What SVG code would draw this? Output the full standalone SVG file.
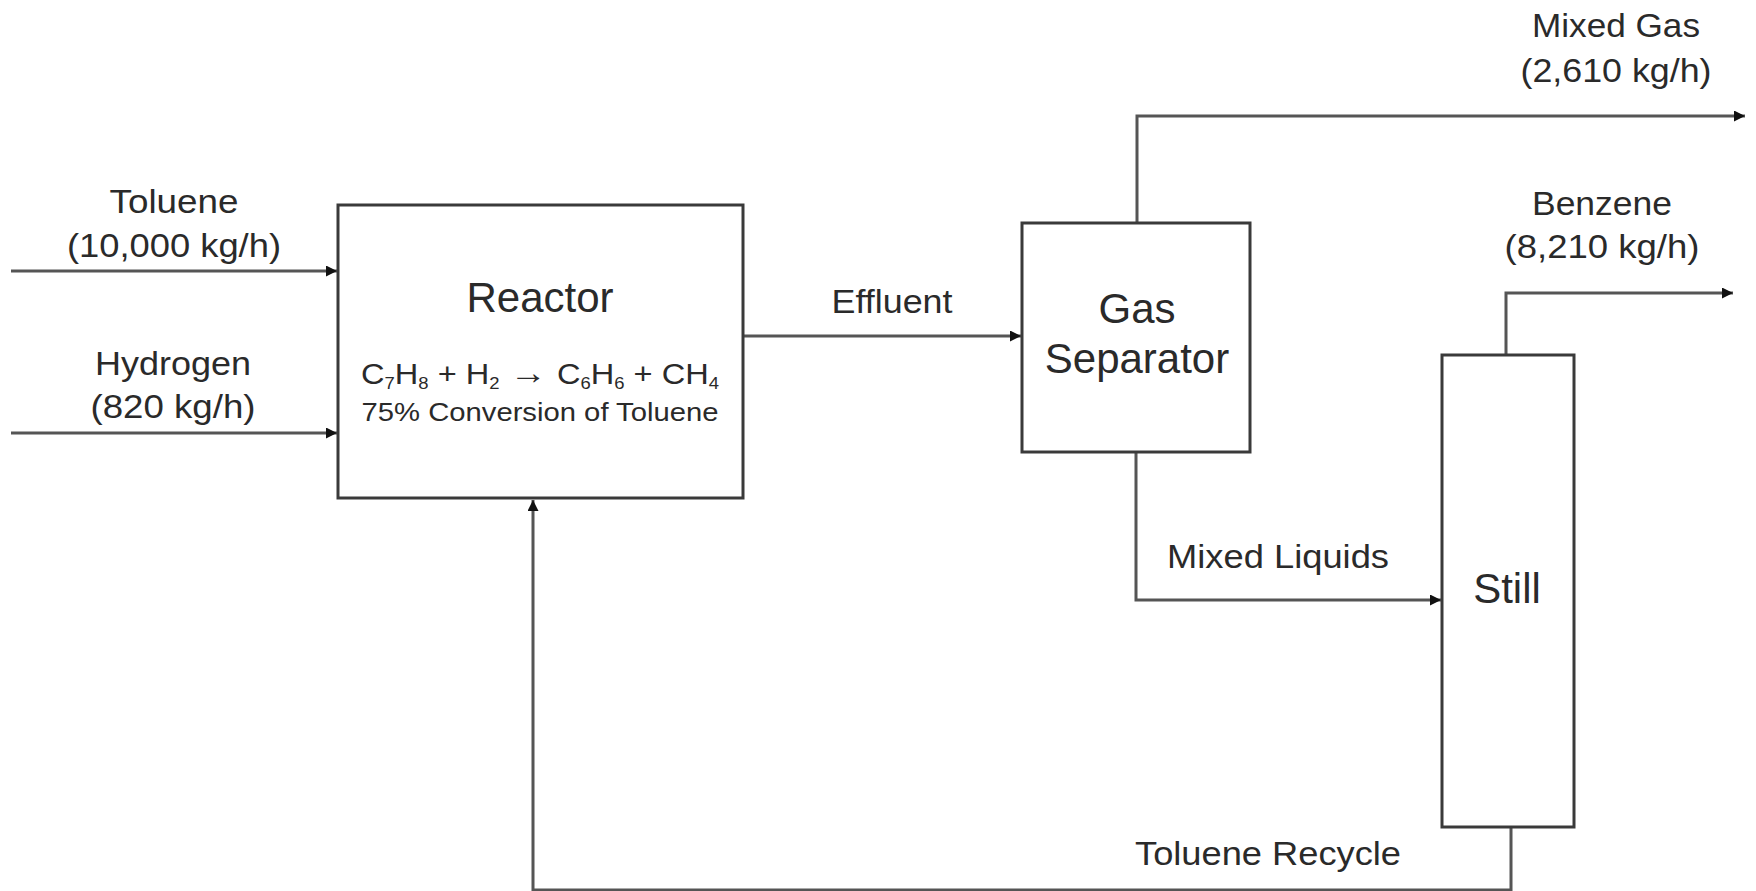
<svg xmlns="http://www.w3.org/2000/svg" width="1756" height="891" viewBox="0 0 1756 891">
<style>
.box{fill:#fff;stroke:#3a3a3a;stroke-width:3}
.ln{fill:none;stroke:#555;stroke-width:3}
.t{font-family:"Liberation Sans",Arial,sans-serif;fill:#2a2a2a;text-anchor:middle}
.s{font-size:34px}
.b{font-size:42px}
</style>
<defs>
<marker id="ah" markerUnits="userSpaceOnUse" markerWidth="13" markerHeight="13" refX="11" refY="5.5" orient="auto">
<path d="M0,0 L11,5.5 L0,11 z" fill="#111"/>
</marker>
</defs>
<rect width="1756" height="891" fill="#fff"/>
<g id="connectors">
<path class="ln" d="M11,271 L337,271" marker-end="url(#ah)"/>
<path class="ln" d="M11,433 L337,433" marker-end="url(#ah)"/>
<path class="ln" d="M743,336 L1021,336" marker-end="url(#ah)"/>
<path class="ln" d="M1137,223 L1137,116 L1745,116" marker-end="url(#ah)"/>
<path class="ln" d="M1136,452 L1136,600 L1441,600" marker-end="url(#ah)"/>
<path class="ln" d="M1506,355 L1506,293 L1733,293" marker-end="url(#ah)"/>
<path class="ln" d="M1511,827 L1511,890 L533,890 L533,500" marker-end="url(#ah)"/>
</g>
<g id="reactor">
<rect class="box" x="338" y="205" width="405" height="293"/>
<text class="t b" x="540" y="312">Reactor</text>
<text class="t" x="540" y="384" font-size="30" textLength="358" lengthAdjust="spacingAndGlyphs">C<tspan font-size="17" dy="5">7</tspan><tspan dy="-5">H</tspan><tspan font-size="17" dy="5">8</tspan><tspan dy="-5"> + H</tspan><tspan font-size="17" dy="5">2</tspan><tspan dy="-5" font-size="34"> → </tspan><tspan>C</tspan><tspan font-size="17" dy="5">6</tspan><tspan dy="-5">H</tspan><tspan font-size="17" dy="5">6</tspan><tspan dy="-5"> + CH</tspan><tspan font-size="17" dy="5">4</tspan></text>
<text class="t" x="540" y="421" font-size="26" textLength="357" lengthAdjust="spacingAndGlyphs">75% Conversion of Toluene</text>
</g>
<g id="gas-separator">
<rect class="box" x="1022" y="223" width="228" height="229"/>
<text class="t b" x="1137" y="323">Gas</text>
<text class="t b" x="1137" y="373">Separator</text>
</g>
<g id="still">
<rect class="box" x="1442" y="355" width="132" height="472"/>
<text class="t b" x="1507" y="603">Still</text>
</g>
<g id="labels">
<text class="t s" x="174" y="213" textLength="129" lengthAdjust="spacingAndGlyphs">Toluene</text>
<text class="t s" x="174" y="257" textLength="214" lengthAdjust="spacingAndGlyphs">(10,000 kg/h)</text>
<text class="t s" x="173" y="375" textLength="156" lengthAdjust="spacingAndGlyphs">Hydrogen</text>
<text class="t s" x="173" y="418" textLength="165" lengthAdjust="spacingAndGlyphs">(820 kg/h)</text>
<text class="t s" x="892" y="313" textLength="121" lengthAdjust="spacingAndGlyphs">Effluent</text>
<text class="t s" x="1616" y="37" textLength="168" lengthAdjust="spacingAndGlyphs">Mixed Gas</text>
<text class="t s" x="1616" y="82" textLength="191" lengthAdjust="spacingAndGlyphs">(2,610 kg/h)</text>
<text class="t s" x="1602" y="215" textLength="140" lengthAdjust="spacingAndGlyphs">Benzene</text>
<text class="t s" x="1602" y="258" textLength="195" lengthAdjust="spacingAndGlyphs">(8,210 kg/h)</text>
<text class="t s" x="1278" y="568" textLength="222" lengthAdjust="spacingAndGlyphs">Mixed Liquids</text>
<text class="t s" x="1268" y="865" textLength="266" lengthAdjust="spacingAndGlyphs">Toluene Recycle</text>
</g>
</svg>
